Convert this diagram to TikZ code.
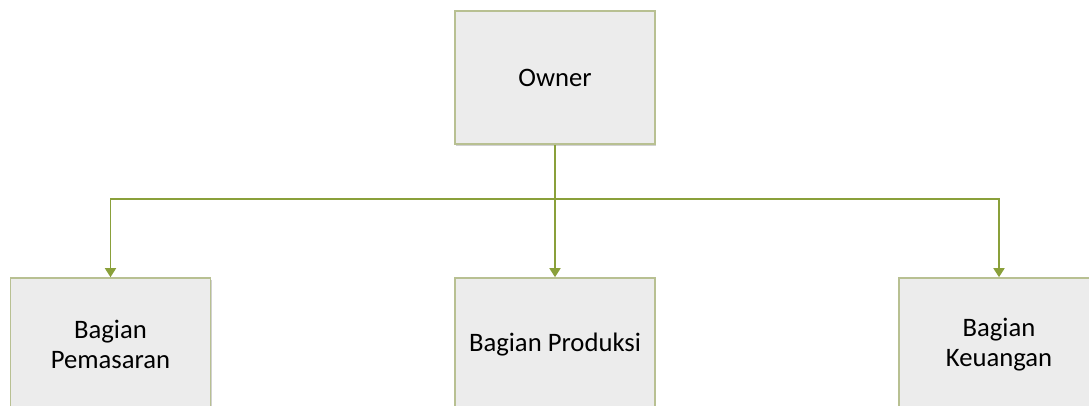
\documentclass[tikz,border=0pt]{standalone}
\usepackage{fontspec}
\setmainfont{Carlito}
\usetikzlibrary{patterns.meta,shadows,arrows.meta}
\definecolor{conn}{RGB}{138,160,58}
\definecolor{bord}{RGB}{184,192,146}
\definecolor{boxfill}{RGB}{236,236,236}
\tikzset{
  orgbox/.style={draw=bord,line width=1.2pt,fill=boxfill,minimum width=150pt,minimum height=99.75pt,
    inner sep=0pt,align=center,font=\fontsize{20pt}{22.5pt}\selectfont,
    drop shadow={shadow xshift=1.1pt,shadow yshift=-1.5pt,fill=black,opacity=0.18},
    postaction={pattern={Lines[angle=-45,distance=3pt,line width=0.25pt]},pattern color=white!85!gray},
    postaction={draw=bord,line width=1.2pt}},
  conn/.style={draw=conn,line width=1.3pt,-{Triangle[length=6.75pt,width=8.25pt]}}
}
\begin{document}
\begin{tikzpicture}[x=0.75pt,y=-0.75pt]
\useasboundingbox (0,0) rectangle (1089,406);
\clip (0,0) rectangle (1089,406);
\node[orgbox] (owner) at (555,77.5) {Owner};
\node[orgbox] (pem) at (110.5,344.5) {Bagian\\Pemasaran};
\node[orgbox] (prod) at (555,344.5) {Bagian Produksi};
\node[orgbox] (keu) at (999,344.5) {Bagian\\Keuangan};
\coordinate (j) at (555,199);
\draw[conn,-] (owner.south) -- (j);
\draw[conn] (j) -| (pem.north);
\draw[conn] (j) -- (prod.north);
\draw[conn] (j) -| (keu.north);
\end{tikzpicture}
\end{document}
